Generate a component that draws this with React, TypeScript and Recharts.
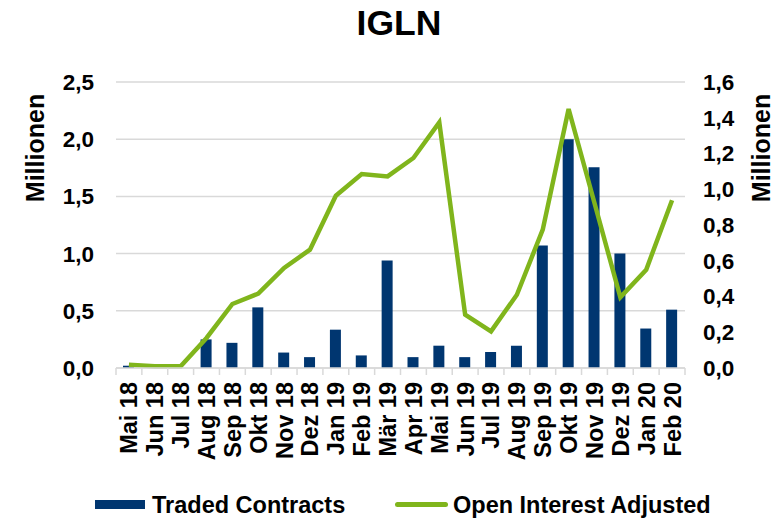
import React from 'react';
import { ComposedChart, Bar, Line, XAxis, YAxis, CartesianGrid, Legend } from 'recharts';

const months = ['Mai 18','Jun 18','Jul 18','Aug 18','Sep 18','Okt 18','Nov 18','Dez 18','Jan 19','Feb 19','Mär 19','Apr 19','Mai 19','Jun 19','Jul 19','Aug 19','Sep 19','Okt 19','Nov 19','Dez 19','Jan 20','Feb 20'];
const tradedContracts = [0.02,0,0,0.25,0.22,0.53,0.135,0.095,0.335,0.11,0.94,0.095,0.195,0.095,0.14,0.195,1.07,2.0,1.755,1.0,0.345,0.51];
const openInterestAdjusted = [0.018,0.01,0.01,0.168,0.358,0.416,0.56,0.662,0.964,1.085,1.072,1.175,1.374,0.298,0.205,0.41,0.774,1.449,0.923,0.395,0.55,0.938];
const leftTicks = [0, 0.5, 1.0, 1.5, 2.0, 2.5];
const rightTicks = [0, 0.2, 0.4, 0.6, 0.8, 1.0, 1.2, 1.4, 1.6];

const data = months.map((m, i) => ({ month: m, traded: tradedContracts[i], oi: openInterestAdjusted[i] }));

const FONT = '"Liberation Sans", Arial, sans-serif';
const BAR_COLOR = '#003670';
const LINE_COLOR = '#80b51c';
const GRID = '#d9d9d9';
const fmt = (v: number) => v.toFixed(1).replace('.', ',');

const W = 780, H = 520;
const LEFT_W = 116, RIGHT_W = 95;
const BAND = (W - LEFT_W - RIGHT_W) / months.length;

const XTick = (props: any) => {
  const { x, y, payload, index } = props;
  return (
    <g>
      <line x1={x - BAND / 2} x2={x - BAND / 2} y1={y} y2={y + 7} stroke={GRID} strokeWidth={1.5} />
      {index === months.length - 1 && (
        <line x1={x + BAND / 2} x2={x + BAND / 2} y1={y} y2={y + 7} stroke={GRID} strokeWidth={1.5} />
      )}
      <text
        x={0}
        y={0}
        dy="0.36em"
        transform={`translate(${x},${y + 14}) rotate(-90)`}
        textAnchor="end"
        fontFamily={FONT}
        fontWeight="bold"
        fontSize={23.5}
        fill="#000"
      >
        {payload.value}
      </text>
    </g>
  );
};

const AxisTitle = (dx: number) => (props: any) => {
  const vb = props.viewBox || {};
  const cx = vb.x + dx;
  const cy = 148;
  return (
    <text
      x={cx}
      y={cy}
      transform={`rotate(-90, ${cx}, ${cy})`}
      textAnchor="middle"
      dominantBaseline="central"
      fontFamily={FONT}
      fontWeight="bold"
      fontSize={25}
      fill="#000"
    >
      Millionen
    </text>
  );
};

const LegendContent = () => (
  <div style={{ position: 'relative', width: W, height: 30, fontFamily: FONT, fontWeight: 'bold', fontSize: 23.5, color: '#000' }}>
    <div style={{ position: 'absolute', left: 95, top: 10, width: 50, height: 9, background: BAR_COLOR }} />
    <span style={{ position: 'absolute', left: 152, top: 0, lineHeight: '30px', whiteSpace: 'nowrap' }}>Traded Contracts</span>
    <div style={{ position: 'absolute', left: 395, top: 12, width: 53, height: 5, background: LINE_COLOR, borderRadius: 3 }} />
    <span style={{ position: 'absolute', left: 453, top: 0, lineHeight: '30px', whiteSpace: 'nowrap' }}>Open Interest Adjusted</span>
  </div>
);

export default function App() {
  return (
    <div style={{ position: 'fixed', left: 0, top: 0, width: W, height: H, background: '#fff' }}>
      <div
        style={{
          position: 'absolute', left: 9, top: 3, width: W, textAlign: 'center',
          fontFamily: FONT, fontWeight: 'bold', fontSize: 35.5, lineHeight: '40px', color: '#000',
        }}
      >
        IGLN
      </div>
      <ComposedChart width={W} height={H} data={data} margin={{ top: 82, right: 0, bottom: 0, left: 0 }}>
        <CartesianGrid vertical={false} stroke={GRID} strokeWidth={1.5} yAxisId="left" />
        <XAxis
          dataKey="month"
          interval={0}
          height={152}
          tick={<XTick />}
          tickLine={false}
          tickSize={0}
          tickMargin={0}
          axisLine={{ stroke: GRID, strokeWidth: 1.5 }}
        />
        <YAxis
          yAxisId="left"
          orientation="left"
          width={LEFT_W}
          domain={[0, 2.5]}
          ticks={leftTicks}
          tickFormatter={fmt}
          axisLine={false}
          tickLine={false}
          tickSize={0}
          tickMargin={22}
          tick={{ fontFamily: FONT, fontWeight: 'bold', fontSize: 22.5, fill: '#000' }}
          label={{ content: AxisTitle(35) } as any}
        />
        <YAxis
          yAxisId="right"
          orientation="right"
          width={RIGHT_W}
          domain={[0, 1.6]}
          ticks={rightTicks}
          tickFormatter={fmt}
          axisLine={false}
          tickLine={false}
          tickSize={0}
          tickMargin={18}
          tick={{ fontFamily: FONT, fontWeight: 'bold', fontSize: 22.5, fill: '#000', textAnchor: 'start' }}
          label={{ content: AxisTitle(76) } as any}
        />
        <Bar yAxisId="left" dataKey="traded" name="Traded Contracts" fill={BAR_COLOR} barSize={11} isAnimationActive={false} />
        <Line yAxisId="right" dataKey="oi" name="Open Interest Adjusted" type="linear" stroke={LINE_COLOR} strokeWidth={4.5} dot={false} activeDot={false} isAnimationActive={false} />
        <Legend
          layout="horizontal"
          verticalAlign="middle"
          align="center"
          content={<LegendContent />}
          wrapperStyle={{ position: 'absolute', left: 0, top: 490, width: W, height: 30 }}
        />
      </ComposedChart>
    </div>
  );
}
